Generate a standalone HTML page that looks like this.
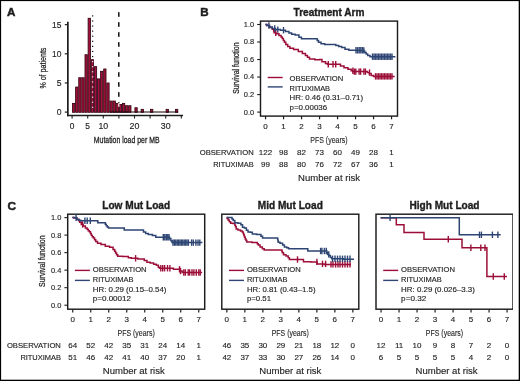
<!DOCTYPE html>
<html><head><meta charset="utf-8"><title>Figure</title>
<style>
html,body{margin:0;padding:0;background:#fff;}
body{width:520px;height:381px;overflow:hidden;}
svg{display:block;font-family:"Liberation Sans", sans-serif;}
</style></head><body>
<svg width="520" height="381" viewBox="0 0 520 381">
<defs><filter id="soft" x="0" y="0" width="1" height="1"><feGaussianBlur stdDeviation="0.35"/></filter></defs>
<rect x="0" y="0" width="520" height="381" fill="#fff"/>
<g filter="url(#soft)">
<text x="7.1" y="15.7" font-size="11.6" text-anchor="start" font-weight="bold" fill="#1e1e1e" stroke="#1e1e1e" stroke-width="0.5">A</text>
<rect x="72.5" y="103.37" width="2.32" height="8.93" fill="#a3103a" stroke="#2e0410" stroke-width="0.8"/>
<rect x="75.62" y="87.05" width="2.32" height="25.25" fill="#a3103a" stroke="#2e0410" stroke-width="0.8"/>
<rect x="78.74" y="77.72" width="2.32" height="34.58" fill="#a3103a" stroke="#2e0410" stroke-width="0.8"/>
<rect x="81.86" y="77.72" width="2.32" height="34.58" fill="#a3103a" stroke="#2e0410" stroke-width="0.8"/>
<rect x="84.98" y="54.69" width="2.32" height="57.61" fill="#a3103a" stroke="#2e0410" stroke-width="0.8"/>
<rect x="88.1" y="18.25" width="2.32" height="94.05" fill="#a3103a" stroke="#2e0410" stroke-width="0.8"/>
<rect x="91.22" y="59.65" width="2.32" height="52.65" fill="#a3103a" stroke="#2e0410" stroke-width="0.8"/>
<rect x="94.34" y="66.64" width="2.32" height="45.66" fill="#a3103a" stroke="#2e0410" stroke-width="0.8"/>
<rect x="97.46" y="78.89" width="2.32" height="33.41" fill="#a3103a" stroke="#2e0410" stroke-width="0.8"/>
<rect x="100.58" y="71.31" width="2.32" height="40.99" fill="#a3103a" stroke="#2e0410" stroke-width="0.8"/>
<rect x="103.7" y="68.97" width="2.32" height="43.33" fill="#a3103a" stroke="#2e0410" stroke-width="0.8"/>
<rect x="106.82" y="82.97" width="2.32" height="29.33" fill="#a3103a" stroke="#2e0410" stroke-width="0.8"/>
<rect x="109.94" y="101.04" width="2.32" height="11.26" fill="#a3103a" stroke="#2e0410" stroke-width="0.8"/>
<rect x="113.06" y="101.04" width="2.32" height="11.26" fill="#a3103a" stroke="#2e0410" stroke-width="0.8"/>
<rect x="116.18" y="103.37" width="2.32" height="8.93" fill="#a3103a" stroke="#2e0410" stroke-width="0.8"/>
<rect x="119.3" y="104.54" width="2.32" height="7.76" fill="#a3103a" stroke="#2e0410" stroke-width="0.8"/>
<rect x="122.42" y="103.37" width="2.32" height="8.93" fill="#a3103a" stroke="#2e0410" stroke-width="0.8"/>
<rect x="125.54" y="105.7" width="2.32" height="6.6" fill="#a3103a" stroke="#2e0410" stroke-width="0.8"/>
<rect x="128.66" y="105.7" width="2.32" height="6.6" fill="#a3103a" stroke="#2e0410" stroke-width="0.8"/>
<rect x="134.9" y="107.74" width="2.32" height="4.56" fill="#a3103a" stroke="#2e0410" stroke-width="0.8"/>
<rect x="141.14" y="109.32" width="2.32" height="2.98" fill="#a3103a" stroke="#2e0410" stroke-width="0.8"/>
<rect x="150.5" y="109.32" width="2.32" height="2.98" fill="#a3103a" stroke="#2e0410" stroke-width="0.8"/>
<rect x="166.1" y="109.32" width="2.32" height="2.98" fill="#a3103a" stroke="#2e0410" stroke-width="0.8"/>
<rect x="175.46" y="109.32" width="2.32" height="2.98" fill="#a3103a" stroke="#2e0410" stroke-width="0.8"/>
<line x1="109.54" y1="112" x2="178.18" y2="112" stroke="#1a0508" stroke-width="1"/>
<line x1="67.85" y1="21.8" x2="67.85" y2="116.3" stroke="#1e1e1e" stroke-width="1.7"/>
<line x1="67" y1="115.5" x2="183" y2="115.5" stroke="#1e1e1e" stroke-width="1.7"/>
<line x1="64.8" y1="112.1" x2="68" y2="112.1" stroke="#1e1e1e" stroke-width="1.2"/>
<text x="61.5" y="115.1" font-size="8.6" text-anchor="end" fill="#1e1e1e" stroke="#1e1e1e" stroke-width="0.14">0</text>
<line x1="64.8" y1="82.95" x2="68" y2="82.95" stroke="#1e1e1e" stroke-width="1.2"/>
<text x="61.5" y="85.95" font-size="8.6" text-anchor="end" fill="#1e1e1e" stroke="#1e1e1e" stroke-width="0.14">5</text>
<line x1="64.8" y1="53.8" x2="68" y2="53.8" stroke="#1e1e1e" stroke-width="1.2"/>
<text x="61.5" y="56.8" font-size="8.6" text-anchor="end" textLength="9.4" lengthAdjust="spacingAndGlyphs" fill="#1e1e1e" stroke="#1e1e1e" stroke-width="0.14">10</text>
<line x1="64.8" y1="24.65" x2="68" y2="24.65" stroke="#1e1e1e" stroke-width="1.2"/>
<text x="61.5" y="27.65" font-size="8.6" text-anchor="end" textLength="9.4" lengthAdjust="spacingAndGlyphs" fill="#1e1e1e" stroke="#1e1e1e" stroke-width="0.14">15</text>
<line x1="72.1" y1="115.6" x2="72.1" y2="118.5" stroke="#1e1e1e" stroke-width="1.1"/>
<text x="72.1" y="129.4" font-size="8.4" text-anchor="middle" fill="#1e1e1e" stroke="#1e1e1e" stroke-width="0.14">0</text>
<line x1="87.7" y1="115.6" x2="87.7" y2="118.5" stroke="#1e1e1e" stroke-width="1.1"/>
<text x="87.7" y="129.4" font-size="8.4" text-anchor="middle" fill="#1e1e1e" stroke="#1e1e1e" stroke-width="0.14">5</text>
<line x1="103.3" y1="115.6" x2="103.3" y2="118.5" stroke="#1e1e1e" stroke-width="1.1"/>
<text x="103.3" y="129.4" font-size="8.4" text-anchor="middle" textLength="9.8" lengthAdjust="spacingAndGlyphs" fill="#1e1e1e" stroke="#1e1e1e" stroke-width="0.14">10</text>
<line x1="118.9" y1="115.6" x2="118.9" y2="118.5" stroke="#1e1e1e" stroke-width="1.1"/>
<line x1="134.5" y1="115.6" x2="134.5" y2="118.5" stroke="#1e1e1e" stroke-width="1.1"/>
<text x="134.5" y="129.4" font-size="8.4" text-anchor="middle" textLength="9.8" lengthAdjust="spacingAndGlyphs" fill="#1e1e1e" stroke="#1e1e1e" stroke-width="0.14">20</text>
<line x1="150.1" y1="115.6" x2="150.1" y2="118.5" stroke="#1e1e1e" stroke-width="1.1"/>
<line x1="165.7" y1="115.6" x2="165.7" y2="118.5" stroke="#1e1e1e" stroke-width="1.1"/>
<text x="165.7" y="129.4" font-size="8.4" text-anchor="middle" textLength="9.8" lengthAdjust="spacingAndGlyphs" fill="#1e1e1e" stroke="#1e1e1e" stroke-width="0.14">30</text>
<line x1="181.3" y1="115.6" x2="181.3" y2="118.5" stroke="#1e1e1e" stroke-width="1.1"/>
<text x="93.8" y="142.9" font-size="9.8" text-anchor="start" textLength="65.7" lengthAdjust="spacingAndGlyphs" fill="#1e1e1e" stroke="#222" stroke-width="0.3">Mutation load per MB</text>
<text transform="translate(45.6,88.6) rotate(-90)" x="0" y="0" font-size="9.4" textLength="41" lengthAdjust="spacingAndGlyphs" fill="#1e1e1e" stroke="#222" stroke-width="0.25">% of patients</text>
<rect x="91.95" y="15.33" width="1.3" height="1.15" fill="#111"/>
<rect x="91.95" y="20.41" width="1.3" height="1.15" fill="#111"/>
<rect x="91.95" y="25.49" width="1.3" height="1.15" fill="#111"/>
<rect x="91.95" y="30.57" width="1.3" height="1.15" fill="#111"/>
<rect x="91.95" y="35.65" width="1.3" height="1.15" fill="#111"/>
<rect x="91.95" y="40.73" width="1.3" height="1.15" fill="#111"/>
<rect x="91.95" y="45.81" width="1.3" height="1.15" fill="#111"/>
<rect x="91.95" y="50.89" width="1.3" height="1.15" fill="#111"/>
<rect x="91.95" y="55.97" width="1.3" height="1.15" fill="#111"/>
<rect x="91.95" y="61.05" width="1.3" height="1.15" fill="#f4dde2"/>
<rect x="91.95" y="66.13" width="1.3" height="1.15" fill="#f4dde2"/>
<rect x="91.95" y="71.21" width="1.3" height="1.15" fill="#f4dde2"/>
<rect x="91.95" y="76.29" width="1.3" height="1.15" fill="#f4dde2"/>
<rect x="91.95" y="81.37" width="1.3" height="1.15" fill="#f4dde2"/>
<rect x="91.95" y="86.45" width="1.3" height="1.15" fill="#f4dde2"/>
<rect x="91.95" y="91.53" width="1.3" height="1.15" fill="#f4dde2"/>
<rect x="91.95" y="96.61" width="1.3" height="1.15" fill="#f4dde2"/>
<rect x="91.95" y="101.69" width="1.3" height="1.15" fill="#f4dde2"/>
<rect x="91.95" y="106.77" width="1.3" height="1.15" fill="#f4dde2"/>
<rect x="118.05" y="12.2" width="1.5" height="4.6" fill="#111"/>
<rect x="118.05" y="22.2" width="1.5" height="4.6" fill="#111"/>
<rect x="118.05" y="32.2" width="1.5" height="4.6" fill="#111"/>
<rect x="118.05" y="42.2" width="1.5" height="4.6" fill="#111"/>
<rect x="118.05" y="52.2" width="1.5" height="4.6" fill="#111"/>
<rect x="118.05" y="62.2" width="1.5" height="4.6" fill="#111"/>
<rect x="118.05" y="72.2" width="1.5" height="4.6" fill="#111"/>
<rect x="118.05" y="82.2" width="1.5" height="4.6" fill="#111"/>
<rect x="118.05" y="92.2" width="1.5" height="4.6" fill="#111"/>
<rect x="118.05" y="102.2" width="1.5" height="1" fill="#111"/>
<rect x="118.1" y="103.2" width="1.4" height="3.6" fill="#f4dde2"/>
<text x="200.2" y="15.8" font-size="11.6" text-anchor="start" font-weight="bold" fill="#1e1e1e" stroke="#1e1e1e" stroke-width="0.5">B</text>
<text x="329" y="15.6" font-size="10.1" text-anchor="middle" font-weight="bold" fill="#1e1e1e" stroke="#1e1e1e" stroke-width="0.35">Treatment Arm</text>
<rect x="260.5" y="21.1" width="137" height="95" fill="none" stroke="#1e1e1e" stroke-width="1.45"/>
<line x1="257.2" y1="112.1" x2="260.5" y2="112.1" stroke="#1e1e1e" stroke-width="1.1"/>
<text x="254.1" y="114.5" font-size="8" text-anchor="end" textLength="10.3" lengthAdjust="spacingAndGlyphs" fill="#1e1e1e" stroke="#1e1e1e" stroke-width="0.14">0.0</text>
<line x1="257.2" y1="94.58" x2="260.5" y2="94.58" stroke="#1e1e1e" stroke-width="1.1"/>
<text x="254.1" y="96.98" font-size="8" text-anchor="end" textLength="10.3" lengthAdjust="spacingAndGlyphs" fill="#1e1e1e" stroke="#1e1e1e" stroke-width="0.14">0.2</text>
<line x1="257.2" y1="77.06" x2="260.5" y2="77.06" stroke="#1e1e1e" stroke-width="1.1"/>
<text x="254.1" y="79.46" font-size="8" text-anchor="end" textLength="10.3" lengthAdjust="spacingAndGlyphs" fill="#1e1e1e" stroke="#1e1e1e" stroke-width="0.14">0.4</text>
<line x1="257.2" y1="59.54" x2="260.5" y2="59.54" stroke="#1e1e1e" stroke-width="1.1"/>
<text x="254.1" y="61.94" font-size="8" text-anchor="end" textLength="10.3" lengthAdjust="spacingAndGlyphs" fill="#1e1e1e" stroke="#1e1e1e" stroke-width="0.14">0.6</text>
<line x1="257.2" y1="42.02" x2="260.5" y2="42.02" stroke="#1e1e1e" stroke-width="1.1"/>
<text x="254.1" y="44.42" font-size="8" text-anchor="end" textLength="10.3" lengthAdjust="spacingAndGlyphs" fill="#1e1e1e" stroke="#1e1e1e" stroke-width="0.14">0.8</text>
<line x1="257.2" y1="24.5" x2="260.5" y2="24.5" stroke="#1e1e1e" stroke-width="1.1"/>
<text x="254.1" y="26.9" font-size="8" text-anchor="end" textLength="10.3" lengthAdjust="spacingAndGlyphs" fill="#1e1e1e" stroke="#1e1e1e" stroke-width="0.14">1.0</text>
<text transform="translate(238.7,68.1) rotate(-90)" x="0" y="0" font-size="9.4" text-anchor="middle" textLength="51.5" lengthAdjust="spacingAndGlyphs" fill="#1e1e1e" stroke="#222" stroke-width="0.25">Survival function</text>
<line x1="265.55" y1="116.1" x2="265.55" y2="119.3" stroke="#1e1e1e" stroke-width="1.2"/>
<text x="265.55" y="129.2" font-size="8" text-anchor="middle" fill="#1e1e1e" stroke="#1e1e1e" stroke-width="0.14">0</text>
<line x1="283.55" y1="116.1" x2="283.55" y2="119.3" stroke="#1e1e1e" stroke-width="1.2"/>
<text x="283.55" y="129.2" font-size="8" text-anchor="middle" fill="#1e1e1e" stroke="#1e1e1e" stroke-width="0.14">1</text>
<line x1="301.55" y1="116.1" x2="301.55" y2="119.3" stroke="#1e1e1e" stroke-width="1.2"/>
<text x="301.55" y="129.2" font-size="8" text-anchor="middle" fill="#1e1e1e" stroke="#1e1e1e" stroke-width="0.14">2</text>
<line x1="319.55" y1="116.1" x2="319.55" y2="119.3" stroke="#1e1e1e" stroke-width="1.2"/>
<text x="319.55" y="129.2" font-size="8" text-anchor="middle" fill="#1e1e1e" stroke="#1e1e1e" stroke-width="0.14">3</text>
<line x1="337.55" y1="116.1" x2="337.55" y2="119.3" stroke="#1e1e1e" stroke-width="1.2"/>
<text x="337.55" y="129.2" font-size="8" text-anchor="middle" fill="#1e1e1e" stroke="#1e1e1e" stroke-width="0.14">4</text>
<line x1="355.55" y1="116.1" x2="355.55" y2="119.3" stroke="#1e1e1e" stroke-width="1.2"/>
<text x="355.55" y="129.2" font-size="8" text-anchor="middle" fill="#1e1e1e" stroke="#1e1e1e" stroke-width="0.14">5</text>
<line x1="373.55" y1="116.1" x2="373.55" y2="119.3" stroke="#1e1e1e" stroke-width="1.2"/>
<text x="373.55" y="129.2" font-size="8" text-anchor="middle" fill="#1e1e1e" stroke="#1e1e1e" stroke-width="0.14">6</text>
<line x1="391.55" y1="116.1" x2="391.55" y2="119.3" stroke="#1e1e1e" stroke-width="1.2"/>
<text x="391.55" y="129.2" font-size="8" text-anchor="middle" fill="#1e1e1e" stroke="#1e1e1e" stroke-width="0.14">7</text>
<text x="328.95" y="142.7" font-size="9.6" text-anchor="middle" textLength="37.2" lengthAdjust="spacingAndGlyphs" fill="#1e1e1e" stroke="#222" stroke-width="0.12">PFS (years)</text>
<line x1="267.7" y1="77.5" x2="282.7" y2="77.5" stroke="#9c1038" stroke-width="1.4"/>
<line x1="267.7" y1="86.9" x2="282.7" y2="86.9" stroke="#2d4573" stroke-width="1.4"/>
<text x="289.5" y="80.7" font-size="8" text-anchor="start" textLength="53.8" lengthAdjust="spacingAndGlyphs" fill="#1e1e1e" stroke="#1e1e1e" stroke-width="0.14">OBSERVATION</text>
<text x="289.5" y="90.5" font-size="8" text-anchor="start" textLength="40.6" lengthAdjust="spacingAndGlyphs" fill="#1e1e1e" stroke="#1e1e1e" stroke-width="0.14">RITUXIMAB</text>
<text x="289.5" y="100.3" font-size="8" text-anchor="start" textLength="73.6" lengthAdjust="spacingAndGlyphs" fill="#1e1e1e" stroke="#1e1e1e" stroke-width="0.14">HR: 0.46 (0.31–0.71)</text>
<text x="289.5" y="110.1" font-size="8" text-anchor="start" textLength="37.6" lengthAdjust="spacingAndGlyphs" fill="#1e1e1e" stroke="#1e1e1e" stroke-width="0.14">p=0.00036</text>
<text x="253.7" y="155.1" font-size="8" text-anchor="end" textLength="54" lengthAdjust="spacingAndGlyphs" fill="#1e1e1e" stroke="#1e1e1e" stroke-width="0.14">OBSERVATION</text>
<text x="253.7" y="166.9" font-size="8" text-anchor="end" textLength="40.5" lengthAdjust="spacingAndGlyphs" fill="#1e1e1e" stroke="#1e1e1e" stroke-width="0.14">RITUXIMAB</text>
<text x="265.55" y="155.1" font-size="8" text-anchor="middle" fill="#1e1e1e" stroke="#1e1e1e" stroke-width="0.14">122</text>
<text x="265.55" y="166.9" font-size="8" text-anchor="middle" fill="#1e1e1e" stroke="#1e1e1e" stroke-width="0.14">99</text>
<text x="283.55" y="155.1" font-size="8" text-anchor="middle" fill="#1e1e1e" stroke="#1e1e1e" stroke-width="0.14">98</text>
<text x="283.55" y="166.9" font-size="8" text-anchor="middle" fill="#1e1e1e" stroke="#1e1e1e" stroke-width="0.14">88</text>
<text x="301.55" y="155.1" font-size="8" text-anchor="middle" fill="#1e1e1e" stroke="#1e1e1e" stroke-width="0.14">82</text>
<text x="301.55" y="166.9" font-size="8" text-anchor="middle" fill="#1e1e1e" stroke="#1e1e1e" stroke-width="0.14">80</text>
<text x="319.55" y="155.1" font-size="8" text-anchor="middle" fill="#1e1e1e" stroke="#1e1e1e" stroke-width="0.14">73</text>
<text x="319.55" y="166.9" font-size="8" text-anchor="middle" fill="#1e1e1e" stroke="#1e1e1e" stroke-width="0.14">76</text>
<text x="337.55" y="155.1" font-size="8" text-anchor="middle" fill="#1e1e1e" stroke="#1e1e1e" stroke-width="0.14">60</text>
<text x="337.55" y="166.9" font-size="8" text-anchor="middle" fill="#1e1e1e" stroke="#1e1e1e" stroke-width="0.14">72</text>
<text x="355.55" y="155.1" font-size="8" text-anchor="middle" fill="#1e1e1e" stroke="#1e1e1e" stroke-width="0.14">49</text>
<text x="355.55" y="166.9" font-size="8" text-anchor="middle" fill="#1e1e1e" stroke="#1e1e1e" stroke-width="0.14">67</text>
<text x="373.55" y="155.1" font-size="8" text-anchor="middle" fill="#1e1e1e" stroke="#1e1e1e" stroke-width="0.14">28</text>
<text x="373.55" y="166.9" font-size="8" text-anchor="middle" fill="#1e1e1e" stroke="#1e1e1e" stroke-width="0.14">36</text>
<text x="391.55" y="155.1" font-size="8" text-anchor="middle" fill="#1e1e1e" stroke="#1e1e1e" stroke-width="0.14">1</text>
<text x="391.55" y="166.9" font-size="8" text-anchor="middle" fill="#1e1e1e" stroke="#1e1e1e" stroke-width="0.14">1</text>
<text x="329.05" y="180.6" font-size="9.4" text-anchor="middle" textLength="62" lengthAdjust="spacingAndGlyphs" fill="#1e1e1e" stroke="#1e1e1e" stroke-width="0.14">Number at risk</text>
<path d="M265.4 24.5H266.7V25.5H268H269.5V27.5H271H272.25V29.2H273.5H273.7V30.95H273.9H274.1V32.7H274.3H275.85V33.8H277.4H278.95V35.4H280.5H281.07V36.95H281.65H282.23V38.5H282.8H283.35V40.4H283.9H284.45V42.3H285H285.8V44.6H286.6H287.7V46.45H288.8H289.9V48.3H291H293.65V49.6H296.3H298.32V51.6H300.35H302.38V53.6H304.4H305.42V55.4H306.43H307.45V57.2H308.47H309.48V59H310.5H314.85V59.7H319.2H319.6V59.6H320H321.95V61.8H323.9H325.5V63.4H327.1H327.5V64.2H327.9H338.9H340.45V66.1H342H344V67.7H346H347.95V69.3H349.9H351.15V70.7H352.4H352.7V71.6H353H366.3H367.3V72.6H368.3H369.25V73.5H370.2H371.15V75.5H372.1H373.55V76.4H375H394.7" fill="none" stroke="#9c1038" stroke-width="1.5" stroke-linejoin="miter"/>
<line x1="275.7" y1="29.5" x2="275.7" y2="35.9" stroke="#9c1038" stroke-width="1.4"/>
<line x1="328.3" y1="61" x2="328.3" y2="67.4" stroke="#9c1038" stroke-width="1.4"/>
<line x1="333" y1="61" x2="333" y2="67.4" stroke="#9c1038" stroke-width="1.4"/>
<line x1="335.7" y1="61" x2="335.7" y2="67.4" stroke="#9c1038" stroke-width="1.4"/>
<line x1="352.9" y1="67.5" x2="352.9" y2="73.9" stroke="#9c1038" stroke-width="1.4"/>
<line x1="354.3" y1="68.4" x2="354.3" y2="74.8" stroke="#9c1038" stroke-width="1.4"/>
<line x1="355.8" y1="68.4" x2="355.8" y2="74.8" stroke="#9c1038" stroke-width="1.4"/>
<line x1="359.1" y1="68.4" x2="359.1" y2="74.8" stroke="#9c1038" stroke-width="1.4"/>
<line x1="360.6" y1="68.4" x2="360.6" y2="74.8" stroke="#9c1038" stroke-width="1.4"/>
<line x1="363.9" y1="68.4" x2="363.9" y2="74.8" stroke="#9c1038" stroke-width="1.4"/>
<line x1="365.4" y1="68.4" x2="365.4" y2="74.8" stroke="#9c1038" stroke-width="1.4"/>
<line x1="369.5" y1="69.4" x2="369.5" y2="75.8" stroke="#9c1038" stroke-width="1.4"/>
<line x1="375.5" y1="73.2" x2="375.5" y2="79.6" stroke="#9c1038" stroke-width="1.4"/>
<line x1="377" y1="73.2" x2="377" y2="79.6" stroke="#9c1038" stroke-width="1.4"/>
<line x1="378.5" y1="73.2" x2="378.5" y2="79.6" stroke="#9c1038" stroke-width="1.4"/>
<line x1="380" y1="73.2" x2="380" y2="79.6" stroke="#9c1038" stroke-width="1.4"/>
<line x1="381.5" y1="73.2" x2="381.5" y2="79.6" stroke="#9c1038" stroke-width="1.4"/>
<line x1="383" y1="73.2" x2="383" y2="79.6" stroke="#9c1038" stroke-width="1.4"/>
<line x1="384.5" y1="73.2" x2="384.5" y2="79.6" stroke="#9c1038" stroke-width="1.4"/>
<line x1="386" y1="73.2" x2="386" y2="79.6" stroke="#9c1038" stroke-width="1.4"/>
<line x1="387.5" y1="73.2" x2="387.5" y2="79.6" stroke="#9c1038" stroke-width="1.4"/>
<line x1="389" y1="73.2" x2="389" y2="79.6" stroke="#9c1038" stroke-width="1.4"/>
<line x1="390.5" y1="73.2" x2="390.5" y2="79.6" stroke="#9c1038" stroke-width="1.4"/>
<line x1="392" y1="73.2" x2="392" y2="79.6" stroke="#9c1038" stroke-width="1.4"/>
<path d="M265.4 24.5H266.7V25.5H268H269.5V27H271H272.25V28.5H273.5H275.45V29.6H277.4H280.45V30.2H283.5H285.45V31.5H287.4H288.95V33H290.5H291.65V34.2H292.8H295.1V35H297.4H298.95V37.3H300.5H301.45V38.8H302.4H316.5H317.18V40.5H317.85H318.52V42.2H319.2H321.05V43.7H322.9H324.8V44.4H326.7H330.55V44.6H334.4H335.85V45.6H337.3H338.75V46.5H340.2H341.65V47.5H343.1H345V49.2H346.9H348.85V50.3H350.8H357V50.4H363.2H363.7V51.3H364.2H364.8V52.5H365.4H366.15V54H366.9H367.7V55.5H368.5H370V56.7H371.5H395.4" fill="none" stroke="#2d4573" stroke-width="1.5" stroke-linejoin="miter"/>
<line x1="268.9" y1="22.3" x2="268.9" y2="28.7" stroke="#2d4573" stroke-width="1.4"/>
<line x1="274.7" y1="25.3" x2="274.7" y2="31.7" stroke="#2d4573" stroke-width="1.4"/>
<line x1="277.8" y1="26.4" x2="277.8" y2="32.8" stroke="#2d4573" stroke-width="1.4"/>
<line x1="283.5" y1="27" x2="283.5" y2="33.4" stroke="#2d4573" stroke-width="1.4"/>
<line x1="356" y1="47.1" x2="356" y2="53.5" stroke="#2d4573" stroke-width="1.4"/>
<line x1="357.6" y1="47.1" x2="357.6" y2="53.5" stroke="#2d4573" stroke-width="1.4"/>
<line x1="359.2" y1="47.1" x2="359.2" y2="53.5" stroke="#2d4573" stroke-width="1.4"/>
<line x1="360.8" y1="47.1" x2="360.8" y2="53.5" stroke="#2d4573" stroke-width="1.4"/>
<line x1="362.3" y1="47.1" x2="362.3" y2="53.5" stroke="#2d4573" stroke-width="1.4"/>
<line x1="363.8" y1="47.2" x2="363.8" y2="53.6" stroke="#2d4573" stroke-width="1.4"/>
<line x1="372.5" y1="53.5" x2="372.5" y2="59.9" stroke="#2d4573" stroke-width="1.4"/>
<line x1="374" y1="53.5" x2="374" y2="59.9" stroke="#2d4573" stroke-width="1.4"/>
<line x1="375.5" y1="53.5" x2="375.5" y2="59.9" stroke="#2d4573" stroke-width="1.4"/>
<line x1="377" y1="53.5" x2="377" y2="59.9" stroke="#2d4573" stroke-width="1.4"/>
<line x1="378.5" y1="53.5" x2="378.5" y2="59.9" stroke="#2d4573" stroke-width="1.4"/>
<line x1="380" y1="53.5" x2="380" y2="59.9" stroke="#2d4573" stroke-width="1.4"/>
<line x1="381.5" y1="53.5" x2="381.5" y2="59.9" stroke="#2d4573" stroke-width="1.4"/>
<line x1="383" y1="53.5" x2="383" y2="59.9" stroke="#2d4573" stroke-width="1.4"/>
<line x1="384.5" y1="53.5" x2="384.5" y2="59.9" stroke="#2d4573" stroke-width="1.4"/>
<line x1="386" y1="53.5" x2="386" y2="59.9" stroke="#2d4573" stroke-width="1.4"/>
<line x1="387.5" y1="53.5" x2="387.5" y2="59.9" stroke="#2d4573" stroke-width="1.4"/>
<line x1="389" y1="53.5" x2="389" y2="59.9" stroke="#2d4573" stroke-width="1.4"/>
<line x1="390.5" y1="53.5" x2="390.5" y2="59.9" stroke="#2d4573" stroke-width="1.4"/>
<line x1="392" y1="53.5" x2="392" y2="59.9" stroke="#2d4573" stroke-width="1.4"/>
<text x="7.5" y="209.5" font-size="11.8" text-anchor="start" font-weight="bold" fill="#1e1e1e" stroke="#1e1e1e" stroke-width="0.5">C</text>
<text x="136.2" y="208.7" font-size="10.1" text-anchor="middle" font-weight="bold" fill="#1e1e1e" stroke="#1e1e1e" stroke-width="0.35">Low Mut Load</text>
<rect x="67.7" y="214.2" width="137" height="95" fill="none" stroke="#1e1e1e" stroke-width="1.45"/>
<line x1="64.4" y1="305.2" x2="67.7" y2="305.2" stroke="#1e1e1e" stroke-width="1.1"/>
<text x="61.3" y="307.6" font-size="8" text-anchor="end" textLength="10.3" lengthAdjust="spacingAndGlyphs" fill="#1e1e1e" stroke="#1e1e1e" stroke-width="0.14">0.0</text>
<line x1="64.4" y1="287.68" x2="67.7" y2="287.68" stroke="#1e1e1e" stroke-width="1.1"/>
<text x="61.3" y="290.08" font-size="8" text-anchor="end" textLength="10.3" lengthAdjust="spacingAndGlyphs" fill="#1e1e1e" stroke="#1e1e1e" stroke-width="0.14">0.2</text>
<line x1="64.4" y1="270.16" x2="67.7" y2="270.16" stroke="#1e1e1e" stroke-width="1.1"/>
<text x="61.3" y="272.56" font-size="8" text-anchor="end" textLength="10.3" lengthAdjust="spacingAndGlyphs" fill="#1e1e1e" stroke="#1e1e1e" stroke-width="0.14">0.4</text>
<line x1="64.4" y1="252.64" x2="67.7" y2="252.64" stroke="#1e1e1e" stroke-width="1.1"/>
<text x="61.3" y="255.04" font-size="8" text-anchor="end" textLength="10.3" lengthAdjust="spacingAndGlyphs" fill="#1e1e1e" stroke="#1e1e1e" stroke-width="0.14">0.6</text>
<line x1="64.4" y1="235.12" x2="67.7" y2="235.12" stroke="#1e1e1e" stroke-width="1.1"/>
<text x="61.3" y="237.52" font-size="8" text-anchor="end" textLength="10.3" lengthAdjust="spacingAndGlyphs" fill="#1e1e1e" stroke="#1e1e1e" stroke-width="0.14">0.8</text>
<line x1="64.4" y1="217.6" x2="67.7" y2="217.6" stroke="#1e1e1e" stroke-width="1.1"/>
<text x="61.3" y="220" font-size="8" text-anchor="end" textLength="10.3" lengthAdjust="spacingAndGlyphs" fill="#1e1e1e" stroke="#1e1e1e" stroke-width="0.14">1.0</text>
<text transform="translate(45,261.2) rotate(-90)" x="0" y="0" font-size="9.4" text-anchor="middle" textLength="51.5" lengthAdjust="spacingAndGlyphs" fill="#1e1e1e" stroke="#222" stroke-width="0.25">Survival function</text>
<line x1="72.75" y1="309.2" x2="72.75" y2="312.4" stroke="#1e1e1e" stroke-width="1.2"/>
<text x="72.75" y="322.3" font-size="8" text-anchor="middle" fill="#1e1e1e" stroke="#1e1e1e" stroke-width="0.14">0</text>
<line x1="90.75" y1="309.2" x2="90.75" y2="312.4" stroke="#1e1e1e" stroke-width="1.2"/>
<text x="90.75" y="322.3" font-size="8" text-anchor="middle" fill="#1e1e1e" stroke="#1e1e1e" stroke-width="0.14">1</text>
<line x1="108.75" y1="309.2" x2="108.75" y2="312.4" stroke="#1e1e1e" stroke-width="1.2"/>
<text x="108.75" y="322.3" font-size="8" text-anchor="middle" fill="#1e1e1e" stroke="#1e1e1e" stroke-width="0.14">2</text>
<line x1="126.75" y1="309.2" x2="126.75" y2="312.4" stroke="#1e1e1e" stroke-width="1.2"/>
<text x="126.75" y="322.3" font-size="8" text-anchor="middle" fill="#1e1e1e" stroke="#1e1e1e" stroke-width="0.14">3</text>
<line x1="144.75" y1="309.2" x2="144.75" y2="312.4" stroke="#1e1e1e" stroke-width="1.2"/>
<text x="144.75" y="322.3" font-size="8" text-anchor="middle" fill="#1e1e1e" stroke="#1e1e1e" stroke-width="0.14">4</text>
<line x1="162.75" y1="309.2" x2="162.75" y2="312.4" stroke="#1e1e1e" stroke-width="1.2"/>
<text x="162.75" y="322.3" font-size="8" text-anchor="middle" fill="#1e1e1e" stroke="#1e1e1e" stroke-width="0.14">5</text>
<line x1="180.75" y1="309.2" x2="180.75" y2="312.4" stroke="#1e1e1e" stroke-width="1.2"/>
<text x="180.75" y="322.3" font-size="8" text-anchor="middle" fill="#1e1e1e" stroke="#1e1e1e" stroke-width="0.14">6</text>
<line x1="198.75" y1="309.2" x2="198.75" y2="312.4" stroke="#1e1e1e" stroke-width="1.2"/>
<text x="198.75" y="322.3" font-size="8" text-anchor="middle" fill="#1e1e1e" stroke="#1e1e1e" stroke-width="0.14">7</text>
<text x="136.15" y="335.8" font-size="9.6" text-anchor="middle" textLength="37.2" lengthAdjust="spacingAndGlyphs" fill="#1e1e1e" stroke="#222" stroke-width="0.12">PFS (years)</text>
<line x1="74.9" y1="270.4" x2="89.9" y2="270.4" stroke="#9c1038" stroke-width="1.4"/>
<line x1="74.9" y1="280.4" x2="89.9" y2="280.4" stroke="#2d4573" stroke-width="1.4"/>
<text x="92.8" y="272.1" font-size="8" text-anchor="start" textLength="53.8" lengthAdjust="spacingAndGlyphs" fill="#1e1e1e" stroke="#1e1e1e" stroke-width="0.14">OBSERVATION</text>
<text x="92.8" y="282.25" font-size="8" text-anchor="start" textLength="40.6" lengthAdjust="spacingAndGlyphs" fill="#1e1e1e" stroke="#1e1e1e" stroke-width="0.14">RITUXIMAB</text>
<text x="92.8" y="292.4" font-size="8" text-anchor="start" textLength="73.6" lengthAdjust="spacingAndGlyphs" fill="#1e1e1e" stroke="#1e1e1e" stroke-width="0.14">HR: 0.29 (0.15–0.54)</text>
<text x="92.8" y="301.25" font-size="8" text-anchor="start" textLength="38.2" lengthAdjust="spacingAndGlyphs" fill="#1e1e1e" stroke="#1e1e1e" stroke-width="0.14">p=0.00012</text>
<text x="60.9" y="348.2" font-size="8" text-anchor="end" textLength="54" lengthAdjust="spacingAndGlyphs" fill="#1e1e1e" stroke="#1e1e1e" stroke-width="0.14">OBSERVATION</text>
<text x="60.9" y="360" font-size="8" text-anchor="end" textLength="40.5" lengthAdjust="spacingAndGlyphs" fill="#1e1e1e" stroke="#1e1e1e" stroke-width="0.14">RITUXIMAB</text>
<text x="72.75" y="348.2" font-size="8" text-anchor="middle" fill="#1e1e1e" stroke="#1e1e1e" stroke-width="0.14">64</text>
<text x="72.75" y="360" font-size="8" text-anchor="middle" fill="#1e1e1e" stroke="#1e1e1e" stroke-width="0.14">51</text>
<text x="90.75" y="348.2" font-size="8" text-anchor="middle" fill="#1e1e1e" stroke="#1e1e1e" stroke-width="0.14">52</text>
<text x="90.75" y="360" font-size="8" text-anchor="middle" fill="#1e1e1e" stroke="#1e1e1e" stroke-width="0.14">46</text>
<text x="108.75" y="348.2" font-size="8" text-anchor="middle" fill="#1e1e1e" stroke="#1e1e1e" stroke-width="0.14">42</text>
<text x="108.75" y="360" font-size="8" text-anchor="middle" fill="#1e1e1e" stroke="#1e1e1e" stroke-width="0.14">42</text>
<text x="126.75" y="348.2" font-size="8" text-anchor="middle" fill="#1e1e1e" stroke="#1e1e1e" stroke-width="0.14">35</text>
<text x="126.75" y="360" font-size="8" text-anchor="middle" fill="#1e1e1e" stroke="#1e1e1e" stroke-width="0.14">41</text>
<text x="144.75" y="348.2" font-size="8" text-anchor="middle" fill="#1e1e1e" stroke="#1e1e1e" stroke-width="0.14">31</text>
<text x="144.75" y="360" font-size="8" text-anchor="middle" fill="#1e1e1e" stroke="#1e1e1e" stroke-width="0.14">40</text>
<text x="162.75" y="348.2" font-size="8" text-anchor="middle" fill="#1e1e1e" stroke="#1e1e1e" stroke-width="0.14">24</text>
<text x="162.75" y="360" font-size="8" text-anchor="middle" fill="#1e1e1e" stroke="#1e1e1e" stroke-width="0.14">37</text>
<text x="180.75" y="348.2" font-size="8" text-anchor="middle" fill="#1e1e1e" stroke="#1e1e1e" stroke-width="0.14">14</text>
<text x="180.75" y="360" font-size="8" text-anchor="middle" fill="#1e1e1e" stroke="#1e1e1e" stroke-width="0.14">20</text>
<text x="198.75" y="348.2" font-size="8" text-anchor="middle" fill="#1e1e1e" stroke="#1e1e1e" stroke-width="0.14">1</text>
<text x="198.75" y="360" font-size="8" text-anchor="middle" fill="#1e1e1e" stroke="#1e1e1e" stroke-width="0.14">1</text>
<text x="133.75" y="373.7" font-size="9.4" text-anchor="middle" textLength="62" lengthAdjust="spacingAndGlyphs" fill="#1e1e1e" stroke="#1e1e1e" stroke-width="0.14">Number at risk</text>
<path d="M72.4 217.6H74.05V218H75.7H76.85V219.5H78H78.58V220.85H79.15H79.72V222.2H80.3H81.25V224.5H82.2H83.2V226H84.2H85.35V228H86.5H87.08V229.35H87.65H88.22V230.7H88.8H89.4V231.7H90H90.42V233.45H90.85H91.28V235.2H91.7H92.28V236.65H92.85H93.42V238.1H94H94.58V239.8H95.15H95.72V241.5H96.3H97.5V243.3H98.7H101V244.4H103.3H105.3V246.2H107.3H109.6V247.3H111.9H113.05V249.6H114.2H114.65V251.35H115.1H115.55V253.1H116H116.58V254.7H117.15H117.72V256.3H118.3H122.6V256.5H126.9H128.35V257.7H129.8H131.25V258.3H132.7H137.9V259.1H143.1H144.25V260.6H145.4H146.95V262.2H148.5H150.2V263.1H151.9H153.65V264.2H155.4H156.4V265.3H157.4H158.35V267.2H159.3H159.55V268.2H159.8H173.3H173.4V269.3H173.5H179.8H180.15V271H180.5H182.15V272.5H183.8H202.1" fill="none" stroke="#9c1038" stroke-width="1.5" stroke-linejoin="miter"/>
<line x1="82.6" y1="221.3" x2="82.6" y2="227.7" stroke="#9c1038" stroke-width="1.4"/>
<line x1="135.6" y1="255.1" x2="135.6" y2="261.5" stroke="#9c1038" stroke-width="1.4"/>
<line x1="160.8" y1="265" x2="160.8" y2="271.4" stroke="#9c1038" stroke-width="1.4"/>
<line x1="162.7" y1="265" x2="162.7" y2="271.4" stroke="#9c1038" stroke-width="1.4"/>
<line x1="164.6" y1="265" x2="164.6" y2="271.4" stroke="#9c1038" stroke-width="1.4"/>
<line x1="167.5" y1="265" x2="167.5" y2="271.4" stroke="#9c1038" stroke-width="1.4"/>
<line x1="169.9" y1="265" x2="169.9" y2="271.4" stroke="#9c1038" stroke-width="1.4"/>
<line x1="179.5" y1="266.1" x2="179.5" y2="272.5" stroke="#9c1038" stroke-width="1.4"/>
<line x1="180.5" y1="267.8" x2="180.5" y2="274.2" stroke="#9c1038" stroke-width="1.4"/>
<line x1="183.8" y1="269.3" x2="183.8" y2="275.7" stroke="#9c1038" stroke-width="1.4"/>
<line x1="185.3" y1="269.3" x2="185.3" y2="275.7" stroke="#9c1038" stroke-width="1.4"/>
<line x1="188.2" y1="269.3" x2="188.2" y2="275.7" stroke="#9c1038" stroke-width="1.4"/>
<line x1="189.6" y1="269.3" x2="189.6" y2="275.7" stroke="#9c1038" stroke-width="1.4"/>
<line x1="192" y1="269.3" x2="192" y2="275.7" stroke="#9c1038" stroke-width="1.4"/>
<line x1="193.9" y1="269.3" x2="193.9" y2="275.7" stroke="#9c1038" stroke-width="1.4"/>
<line x1="196.3" y1="269.3" x2="196.3" y2="275.7" stroke="#9c1038" stroke-width="1.4"/>
<line x1="198.8" y1="269.3" x2="198.8" y2="275.7" stroke="#9c1038" stroke-width="1.4"/>
<line x1="200.2" y1="269.3" x2="200.2" y2="275.7" stroke="#9c1038" stroke-width="1.4"/>
<path d="M72.4 217.6H74.05V217.8H75.7H76.85V219.2H78H78.95V220.3H79.9H80.7V220.8H81.5H97.2H97.8V222.7H98.4H101.6V222.8H104.8H105.28V224.25H105.75H106.22V225.7H106.7H107.3V226.9H107.9H108.5V228.1H109.1H124H124.25V230H124.5H142.8H143.5V232H144.2H145.65V233.4H147.1H148.3V234.5H149.5H152.4V235.4H155.3H155.8V237.3H156.3H169H169.55V238.6H170.1H170.9V240.7H171.7H172V242.6H172.3H202.4" fill="none" stroke="#2d4573" stroke-width="1.5" stroke-linejoin="miter"/>
<line x1="76.1" y1="214.6" x2="76.1" y2="221" stroke="#2d4573" stroke-width="1.4"/>
<line x1="84.9" y1="217.6" x2="84.9" y2="224" stroke="#2d4573" stroke-width="1.4"/>
<line x1="87.2" y1="217.6" x2="87.2" y2="224" stroke="#2d4573" stroke-width="1.4"/>
<line x1="90.3" y1="217.6" x2="90.3" y2="224" stroke="#2d4573" stroke-width="1.4"/>
<line x1="163.3" y1="234.1" x2="163.3" y2="240.5" stroke="#2d4573" stroke-width="1.4"/>
<line x1="164.8" y1="234.1" x2="164.8" y2="240.5" stroke="#2d4573" stroke-width="1.4"/>
<line x1="166.3" y1="234.1" x2="166.3" y2="240.5" stroke="#2d4573" stroke-width="1.4"/>
<line x1="167.8" y1="234.1" x2="167.8" y2="240.5" stroke="#2d4573" stroke-width="1.4"/>
<line x1="169" y1="234.1" x2="169" y2="240.5" stroke="#2d4573" stroke-width="1.4"/>
<line x1="173" y1="239.4" x2="173" y2="245.8" stroke="#2d4573" stroke-width="1.4"/>
<line x1="174.4" y1="239.4" x2="174.4" y2="245.8" stroke="#2d4573" stroke-width="1.4"/>
<line x1="175.8" y1="239.4" x2="175.8" y2="245.8" stroke="#2d4573" stroke-width="1.4"/>
<line x1="177.2" y1="239.4" x2="177.2" y2="245.8" stroke="#2d4573" stroke-width="1.4"/>
<line x1="178.6" y1="239.4" x2="178.6" y2="245.8" stroke="#2d4573" stroke-width="1.4"/>
<line x1="180" y1="239.4" x2="180" y2="245.8" stroke="#2d4573" stroke-width="1.4"/>
<line x1="181.4" y1="239.4" x2="181.4" y2="245.8" stroke="#2d4573" stroke-width="1.4"/>
<line x1="182.8" y1="239.4" x2="182.8" y2="245.8" stroke="#2d4573" stroke-width="1.4"/>
<line x1="184.2" y1="239.4" x2="184.2" y2="245.8" stroke="#2d4573" stroke-width="1.4"/>
<line x1="185.6" y1="239.4" x2="185.6" y2="245.8" stroke="#2d4573" stroke-width="1.4"/>
<line x1="187" y1="239.4" x2="187" y2="245.8" stroke="#2d4573" stroke-width="1.4"/>
<line x1="188.4" y1="239.4" x2="188.4" y2="245.8" stroke="#2d4573" stroke-width="1.4"/>
<line x1="191.6" y1="239.4" x2="191.6" y2="245.8" stroke="#2d4573" stroke-width="1.4"/>
<line x1="193.3" y1="239.4" x2="193.3" y2="245.8" stroke="#2d4573" stroke-width="1.4"/>
<line x1="195.9" y1="239.4" x2="195.9" y2="245.8" stroke="#2d4573" stroke-width="1.4"/>
<line x1="198" y1="239.4" x2="198" y2="245.8" stroke="#2d4573" stroke-width="1.4"/>
<line x1="199.8" y1="239.4" x2="199.8" y2="245.8" stroke="#2d4573" stroke-width="1.4"/>
<text x="290.3" y="208.7" font-size="10.1" text-anchor="middle" font-weight="bold" fill="#1e1e1e" stroke="#1e1e1e" stroke-width="0.35">Mid Mut Load</text>
<rect x="221.8" y="214.2" width="137" height="95" fill="none" stroke="#1e1e1e" stroke-width="1.45"/>
<line x1="226.85" y1="309.2" x2="226.85" y2="312.4" stroke="#1e1e1e" stroke-width="1.2"/>
<text x="226.85" y="322.3" font-size="8" text-anchor="middle" fill="#1e1e1e" stroke="#1e1e1e" stroke-width="0.14">0</text>
<line x1="244.85" y1="309.2" x2="244.85" y2="312.4" stroke="#1e1e1e" stroke-width="1.2"/>
<text x="244.85" y="322.3" font-size="8" text-anchor="middle" fill="#1e1e1e" stroke="#1e1e1e" stroke-width="0.14">1</text>
<line x1="262.85" y1="309.2" x2="262.85" y2="312.4" stroke="#1e1e1e" stroke-width="1.2"/>
<text x="262.85" y="322.3" font-size="8" text-anchor="middle" fill="#1e1e1e" stroke="#1e1e1e" stroke-width="0.14">2</text>
<line x1="280.85" y1="309.2" x2="280.85" y2="312.4" stroke="#1e1e1e" stroke-width="1.2"/>
<text x="280.85" y="322.3" font-size="8" text-anchor="middle" fill="#1e1e1e" stroke="#1e1e1e" stroke-width="0.14">3</text>
<line x1="298.85" y1="309.2" x2="298.85" y2="312.4" stroke="#1e1e1e" stroke-width="1.2"/>
<text x="298.85" y="322.3" font-size="8" text-anchor="middle" fill="#1e1e1e" stroke="#1e1e1e" stroke-width="0.14">4</text>
<line x1="316.85" y1="309.2" x2="316.85" y2="312.4" stroke="#1e1e1e" stroke-width="1.2"/>
<text x="316.85" y="322.3" font-size="8" text-anchor="middle" fill="#1e1e1e" stroke="#1e1e1e" stroke-width="0.14">5</text>
<line x1="334.85" y1="309.2" x2="334.85" y2="312.4" stroke="#1e1e1e" stroke-width="1.2"/>
<text x="334.85" y="322.3" font-size="8" text-anchor="middle" fill="#1e1e1e" stroke="#1e1e1e" stroke-width="0.14">6</text>
<line x1="352.85" y1="309.2" x2="352.85" y2="312.4" stroke="#1e1e1e" stroke-width="1.2"/>
<text x="352.85" y="322.3" font-size="8" text-anchor="middle" fill="#1e1e1e" stroke="#1e1e1e" stroke-width="0.14">7</text>
<text x="290.25" y="335.8" font-size="9.6" text-anchor="middle" textLength="37.2" lengthAdjust="spacingAndGlyphs" fill="#1e1e1e" stroke="#222" stroke-width="0.12">PFS (years)</text>
<line x1="229" y1="270.4" x2="244" y2="270.4" stroke="#9c1038" stroke-width="1.4"/>
<line x1="229" y1="280.4" x2="244" y2="280.4" stroke="#2d4573" stroke-width="1.4"/>
<text x="246.9" y="272.1" font-size="8" text-anchor="start" textLength="53.8" lengthAdjust="spacingAndGlyphs" fill="#1e1e1e" stroke="#1e1e1e" stroke-width="0.14">OBSERVATION</text>
<text x="246.9" y="282.25" font-size="8" text-anchor="start" textLength="40.6" lengthAdjust="spacingAndGlyphs" fill="#1e1e1e" stroke="#1e1e1e" stroke-width="0.14">RITUXIMAB</text>
<text x="246.9" y="292.4" font-size="8" text-anchor="start" textLength="68.6" lengthAdjust="spacingAndGlyphs" fill="#1e1e1e" stroke="#1e1e1e" stroke-width="0.14">HR: 0.81 (0.43–1.5)</text>
<text x="246.9" y="301.25" font-size="8" text-anchor="start" textLength="24.2" lengthAdjust="spacingAndGlyphs" fill="#1e1e1e" stroke="#1e1e1e" stroke-width="0.14">p=0.51</text>
<text x="226.85" y="348.2" font-size="8" text-anchor="middle" fill="#1e1e1e" stroke="#1e1e1e" stroke-width="0.14">46</text>
<text x="226.85" y="360" font-size="8" text-anchor="middle" fill="#1e1e1e" stroke="#1e1e1e" stroke-width="0.14">42</text>
<text x="244.85" y="348.2" font-size="8" text-anchor="middle" fill="#1e1e1e" stroke="#1e1e1e" stroke-width="0.14">35</text>
<text x="244.85" y="360" font-size="8" text-anchor="middle" fill="#1e1e1e" stroke="#1e1e1e" stroke-width="0.14">37</text>
<text x="262.85" y="348.2" font-size="8" text-anchor="middle" fill="#1e1e1e" stroke="#1e1e1e" stroke-width="0.14">30</text>
<text x="262.85" y="360" font-size="8" text-anchor="middle" fill="#1e1e1e" stroke="#1e1e1e" stroke-width="0.14">33</text>
<text x="280.85" y="348.2" font-size="8" text-anchor="middle" fill="#1e1e1e" stroke="#1e1e1e" stroke-width="0.14">29</text>
<text x="280.85" y="360" font-size="8" text-anchor="middle" fill="#1e1e1e" stroke="#1e1e1e" stroke-width="0.14">30</text>
<text x="298.85" y="348.2" font-size="8" text-anchor="middle" fill="#1e1e1e" stroke="#1e1e1e" stroke-width="0.14">21</text>
<text x="298.85" y="360" font-size="8" text-anchor="middle" fill="#1e1e1e" stroke="#1e1e1e" stroke-width="0.14">27</text>
<text x="316.85" y="348.2" font-size="8" text-anchor="middle" fill="#1e1e1e" stroke="#1e1e1e" stroke-width="0.14">18</text>
<text x="316.85" y="360" font-size="8" text-anchor="middle" fill="#1e1e1e" stroke="#1e1e1e" stroke-width="0.14">26</text>
<text x="334.85" y="348.2" font-size="8" text-anchor="middle" fill="#1e1e1e" stroke="#1e1e1e" stroke-width="0.14">12</text>
<text x="334.85" y="360" font-size="8" text-anchor="middle" fill="#1e1e1e" stroke="#1e1e1e" stroke-width="0.14">14</text>
<text x="352.85" y="348.2" font-size="8" text-anchor="middle" fill="#1e1e1e" stroke="#1e1e1e" stroke-width="0.14">0</text>
<text x="352.85" y="360" font-size="8" text-anchor="middle" fill="#1e1e1e" stroke="#1e1e1e" stroke-width="0.14">0</text>
<text x="290.35" y="373.7" font-size="9.4" text-anchor="middle" textLength="62" lengthAdjust="spacingAndGlyphs" fill="#1e1e1e" stroke="#1e1e1e" stroke-width="0.14">Number at risk</text>
<path d="M226.7 217.6H227.1V218.5H227.5H228.1V220.1H228.7H229.3V221.7H229.9H230.65V223.2H231.4H233V223.6H234.6H234.9V225.2H235.2H235.5V226.8H235.8H236.2V229.1H236.6H237.95V229.9H239.3H240.5V231.1H241.7H242.3V231.9H242.9H243.18V233.45H243.45H243.72V235H244H244.4V237H244.8H245.2V239H245.6H246V240.55H246.4H246.8V242.1H247.2H252V242.5H256.8H257.27V243.75H257.75H258.23V245H258.7H260.05V246.9H261.4H262.35V248.7H263.3H264.2V250.1H265.1H281.7H281.93V251.45H282.15H282.38V252.8H282.6H283.5V254.7H284.4H286V256H287.6H288.2V257.75H288.8H289.4V259.5H290H302.5H303.45V261.7H304.4H310.65V261.9H316.9H317.2V263.9H317.5H324.25V264.4H331H351" fill="none" stroke="#9c1038" stroke-width="1.5" stroke-linejoin="miter"/>
<line x1="297.5" y1="256.3" x2="297.5" y2="262.7" stroke="#9c1038" stroke-width="1.4"/>
<line x1="316.9" y1="258.7" x2="316.9" y2="265.1" stroke="#9c1038" stroke-width="1.4"/>
<line x1="322.5" y1="260.7" x2="322.5" y2="267.1" stroke="#9c1038" stroke-width="1.4"/>
<line x1="325.6" y1="260.7" x2="325.6" y2="267.1" stroke="#9c1038" stroke-width="1.4"/>
<line x1="331" y1="261.2" x2="331" y2="267.6" stroke="#9c1038" stroke-width="1.4"/>
<line x1="333" y1="261.2" x2="333" y2="267.6" stroke="#9c1038" stroke-width="1.4"/>
<line x1="335.6" y1="261.2" x2="335.6" y2="267.6" stroke="#9c1038" stroke-width="1.4"/>
<line x1="338" y1="261.2" x2="338" y2="267.6" stroke="#9c1038" stroke-width="1.4"/>
<line x1="340" y1="261.2" x2="340" y2="267.6" stroke="#9c1038" stroke-width="1.4"/>
<line x1="342.5" y1="261.2" x2="342.5" y2="267.6" stroke="#9c1038" stroke-width="1.4"/>
<line x1="345" y1="261.2" x2="345" y2="267.6" stroke="#9c1038" stroke-width="1.4"/>
<line x1="347.5" y1="261.2" x2="347.5" y2="267.6" stroke="#9c1038" stroke-width="1.4"/>
<line x1="350" y1="261.2" x2="350" y2="267.6" stroke="#9c1038" stroke-width="1.4"/>
<path d="M226.7 217.6H231.4H232V219.05H232.6H233.2V220.5H233.8H234.8V222.8H235.8H237.95V223.2H240.1H240.9V224.8H241.7H242.5V227.2H243.3H244.45V228H245.6H246.4V230.3H247.2H248V231.9H248.8H250.35V232.3H251.9H252.3V233.9H252.7H256.6V234.4H260.5H260.95V236.3H261.4H262.55V238.1H263.7H277.5H277.65V239.5H277.8H277.95V240.9H278.1H278.25V242.3H278.4H280.05V243.2H281.7H282.6V245H283.5H284.4V246.9H285.3H286.7V247.8H288.1H288.55V248.8H289H307.5H307.8V251H308.1H326.5H326.9V252.7H327.3H327.7V254.4H328.1H328.75V255.6H329.4H330.35V257.5H331.3H331.9V258.8H332.5H343.25V259.2H354" fill="none" stroke="#2d4573" stroke-width="1.5" stroke-linejoin="miter"/>
<line x1="320.6" y1="247.8" x2="320.6" y2="254.2" stroke="#2d4573" stroke-width="1.4"/>
<line x1="321.9" y1="247.8" x2="321.9" y2="254.2" stroke="#2d4573" stroke-width="1.4"/>
<line x1="324.4" y1="247.8" x2="324.4" y2="254.2" stroke="#2d4573" stroke-width="1.4"/>
<line x1="326.3" y1="247.8" x2="326.3" y2="254.2" stroke="#2d4573" stroke-width="1.4"/>
<line x1="328.75" y1="251.2" x2="328.75" y2="257.6" stroke="#2d4573" stroke-width="1.4"/>
<line x1="332.5" y1="255.6" x2="332.5" y2="262" stroke="#2d4573" stroke-width="1.4"/>
<line x1="335" y1="255.6" x2="335" y2="262" stroke="#2d4573" stroke-width="1.4"/>
<line x1="337.5" y1="255.6" x2="337.5" y2="262" stroke="#2d4573" stroke-width="1.4"/>
<line x1="340" y1="255.6" x2="340" y2="262" stroke="#2d4573" stroke-width="1.4"/>
<line x1="342.5" y1="255.6" x2="342.5" y2="262" stroke="#2d4573" stroke-width="1.4"/>
<line x1="345" y1="255.6" x2="345" y2="262" stroke="#2d4573" stroke-width="1.4"/>
<line x1="347.5" y1="255.6" x2="347.5" y2="262" stroke="#2d4573" stroke-width="1.4"/>
<line x1="350" y1="255.6" x2="350" y2="262" stroke="#2d4573" stroke-width="1.4"/>
<text x="444.5" y="208.7" font-size="10.1" text-anchor="middle" font-weight="bold" fill="#1e1e1e" stroke="#1e1e1e" stroke-width="0.35">High Mut Load</text>
<rect x="376" y="214.2" width="137" height="95" fill="none" stroke="#1e1e1e" stroke-width="1.45"/>
<line x1="381.05" y1="309.2" x2="381.05" y2="312.4" stroke="#1e1e1e" stroke-width="1.2"/>
<text x="381.05" y="322.3" font-size="8" text-anchor="middle" fill="#1e1e1e" stroke="#1e1e1e" stroke-width="0.14">0</text>
<line x1="399.05" y1="309.2" x2="399.05" y2="312.4" stroke="#1e1e1e" stroke-width="1.2"/>
<text x="399.05" y="322.3" font-size="8" text-anchor="middle" fill="#1e1e1e" stroke="#1e1e1e" stroke-width="0.14">1</text>
<line x1="417.05" y1="309.2" x2="417.05" y2="312.4" stroke="#1e1e1e" stroke-width="1.2"/>
<text x="417.05" y="322.3" font-size="8" text-anchor="middle" fill="#1e1e1e" stroke="#1e1e1e" stroke-width="0.14">2</text>
<line x1="435.05" y1="309.2" x2="435.05" y2="312.4" stroke="#1e1e1e" stroke-width="1.2"/>
<text x="435.05" y="322.3" font-size="8" text-anchor="middle" fill="#1e1e1e" stroke="#1e1e1e" stroke-width="0.14">3</text>
<line x1="453.05" y1="309.2" x2="453.05" y2="312.4" stroke="#1e1e1e" stroke-width="1.2"/>
<text x="453.05" y="322.3" font-size="8" text-anchor="middle" fill="#1e1e1e" stroke="#1e1e1e" stroke-width="0.14">4</text>
<line x1="471.05" y1="309.2" x2="471.05" y2="312.4" stroke="#1e1e1e" stroke-width="1.2"/>
<text x="471.05" y="322.3" font-size="8" text-anchor="middle" fill="#1e1e1e" stroke="#1e1e1e" stroke-width="0.14">5</text>
<line x1="489.05" y1="309.2" x2="489.05" y2="312.4" stroke="#1e1e1e" stroke-width="1.2"/>
<text x="489.05" y="322.3" font-size="8" text-anchor="middle" fill="#1e1e1e" stroke="#1e1e1e" stroke-width="0.14">6</text>
<line x1="507.05" y1="309.2" x2="507.05" y2="312.4" stroke="#1e1e1e" stroke-width="1.2"/>
<text x="507.05" y="322.3" font-size="8" text-anchor="middle" fill="#1e1e1e" stroke="#1e1e1e" stroke-width="0.14">7</text>
<text x="444.45" y="335.8" font-size="9.6" text-anchor="middle" textLength="37.2" lengthAdjust="spacingAndGlyphs" fill="#1e1e1e" stroke="#222" stroke-width="0.12">PFS (years)</text>
<line x1="383.2" y1="270.4" x2="398.2" y2="270.4" stroke="#9c1038" stroke-width="1.4"/>
<line x1="383.2" y1="280.4" x2="398.2" y2="280.4" stroke="#2d4573" stroke-width="1.4"/>
<text x="401.1" y="272.1" font-size="8" text-anchor="start" textLength="53.8" lengthAdjust="spacingAndGlyphs" fill="#1e1e1e" stroke="#1e1e1e" stroke-width="0.14">OBSERVATION</text>
<text x="401.1" y="282.25" font-size="8" text-anchor="start" textLength="40.6" lengthAdjust="spacingAndGlyphs" fill="#1e1e1e" stroke="#1e1e1e" stroke-width="0.14">RITUXIMAB</text>
<text x="401.1" y="292.4" font-size="8" text-anchor="start" textLength="73.8" lengthAdjust="spacingAndGlyphs" fill="#1e1e1e" stroke="#1e1e1e" stroke-width="0.14">HR: 0.29 (0.026–3.3)</text>
<text x="401.1" y="301.25" font-size="8" text-anchor="start" textLength="25.2" lengthAdjust="spacingAndGlyphs" fill="#1e1e1e" stroke="#1e1e1e" stroke-width="0.14">p=0.32</text>
<text x="381.05" y="348.2" font-size="8" text-anchor="middle" fill="#1e1e1e" stroke="#1e1e1e" stroke-width="0.14">12</text>
<text x="381.05" y="360" font-size="8" text-anchor="middle" fill="#1e1e1e" stroke="#1e1e1e" stroke-width="0.14">6</text>
<text x="399.05" y="348.2" font-size="8" text-anchor="middle" fill="#1e1e1e" stroke="#1e1e1e" stroke-width="0.14">11</text>
<text x="399.05" y="360" font-size="8" text-anchor="middle" fill="#1e1e1e" stroke="#1e1e1e" stroke-width="0.14">5</text>
<text x="417.05" y="348.2" font-size="8" text-anchor="middle" fill="#1e1e1e" stroke="#1e1e1e" stroke-width="0.14">10</text>
<text x="417.05" y="360" font-size="8" text-anchor="middle" fill="#1e1e1e" stroke="#1e1e1e" stroke-width="0.14">5</text>
<text x="435.05" y="348.2" font-size="8" text-anchor="middle" fill="#1e1e1e" stroke="#1e1e1e" stroke-width="0.14">9</text>
<text x="435.05" y="360" font-size="8" text-anchor="middle" fill="#1e1e1e" stroke="#1e1e1e" stroke-width="0.14">5</text>
<text x="453.05" y="348.2" font-size="8" text-anchor="middle" fill="#1e1e1e" stroke="#1e1e1e" stroke-width="0.14">8</text>
<text x="453.05" y="360" font-size="8" text-anchor="middle" fill="#1e1e1e" stroke="#1e1e1e" stroke-width="0.14">5</text>
<text x="471.05" y="348.2" font-size="8" text-anchor="middle" fill="#1e1e1e" stroke="#1e1e1e" stroke-width="0.14">7</text>
<text x="471.05" y="360" font-size="8" text-anchor="middle" fill="#1e1e1e" stroke="#1e1e1e" stroke-width="0.14">4</text>
<text x="489.05" y="348.2" font-size="8" text-anchor="middle" fill="#1e1e1e" stroke="#1e1e1e" stroke-width="0.14">2</text>
<text x="489.05" y="360" font-size="8" text-anchor="middle" fill="#1e1e1e" stroke="#1e1e1e" stroke-width="0.14">2</text>
<text x="507.05" y="348.2" font-size="8" text-anchor="middle" fill="#1e1e1e" stroke="#1e1e1e" stroke-width="0.14">0</text>
<text x="507.05" y="360" font-size="8" text-anchor="middle" fill="#1e1e1e" stroke="#1e1e1e" stroke-width="0.14">0</text>
<text x="446.55" y="373.7" font-size="9.4" text-anchor="middle" textLength="62" lengthAdjust="spacingAndGlyphs" fill="#1e1e1e" stroke="#1e1e1e" stroke-width="0.14">Number at risk</text>
<path d="M380.6 217.7H396.3V224.7H404V232.5H424V239.3H462V247.7H486.9V276.5H507" fill="none" stroke="#9c1038" stroke-width="1.5" stroke-linejoin="miter"/>
<line x1="448.3" y1="236.1" x2="448.3" y2="242.5" stroke="#9c1038" stroke-width="1.4"/>
<line x1="470.9" y1="244.5" x2="470.9" y2="250.9" stroke="#9c1038" stroke-width="1.4"/>
<line x1="480.8" y1="244.5" x2="480.8" y2="250.9" stroke="#9c1038" stroke-width="1.4"/>
<line x1="485" y1="244.5" x2="485" y2="250.9" stroke="#9c1038" stroke-width="1.4"/>
<line x1="493.3" y1="273.3" x2="493.3" y2="279.7" stroke="#9c1038" stroke-width="1.4"/>
<line x1="504.3" y1="273.3" x2="504.3" y2="279.7" stroke="#9c1038" stroke-width="1.4"/>
<path d="M380.6 217.7H459.3V234.8H500.7" fill="none" stroke="#2d4573" stroke-width="1.5" stroke-linejoin="miter"/>
<line x1="390.1" y1="214.5" x2="390.1" y2="220.9" stroke="#2d4573" stroke-width="1.4"/>
<line x1="479.5" y1="231.6" x2="479.5" y2="238" stroke="#2d4573" stroke-width="1.4"/>
<line x1="481.4" y1="231.6" x2="481.4" y2="238" stroke="#2d4573" stroke-width="1.4"/>
<line x1="492.4" y1="231.6" x2="492.4" y2="238" stroke="#2d4573" stroke-width="1.4"/>
<line x1="497.9" y1="231.6" x2="497.9" y2="238" stroke="#2d4573" stroke-width="1.4"/>
</g>
<rect x="0" y="0" width="520" height="1.1" fill="#000"/>
<rect x="0" y="0" width="1.1" height="381" fill="#000"/>
<rect x="518.7" y="0" width="1.3" height="381" fill="#000"/>
<rect x="0" y="379.7" width="520" height="1.3" fill="#000"/>
</svg>
</body></html>
